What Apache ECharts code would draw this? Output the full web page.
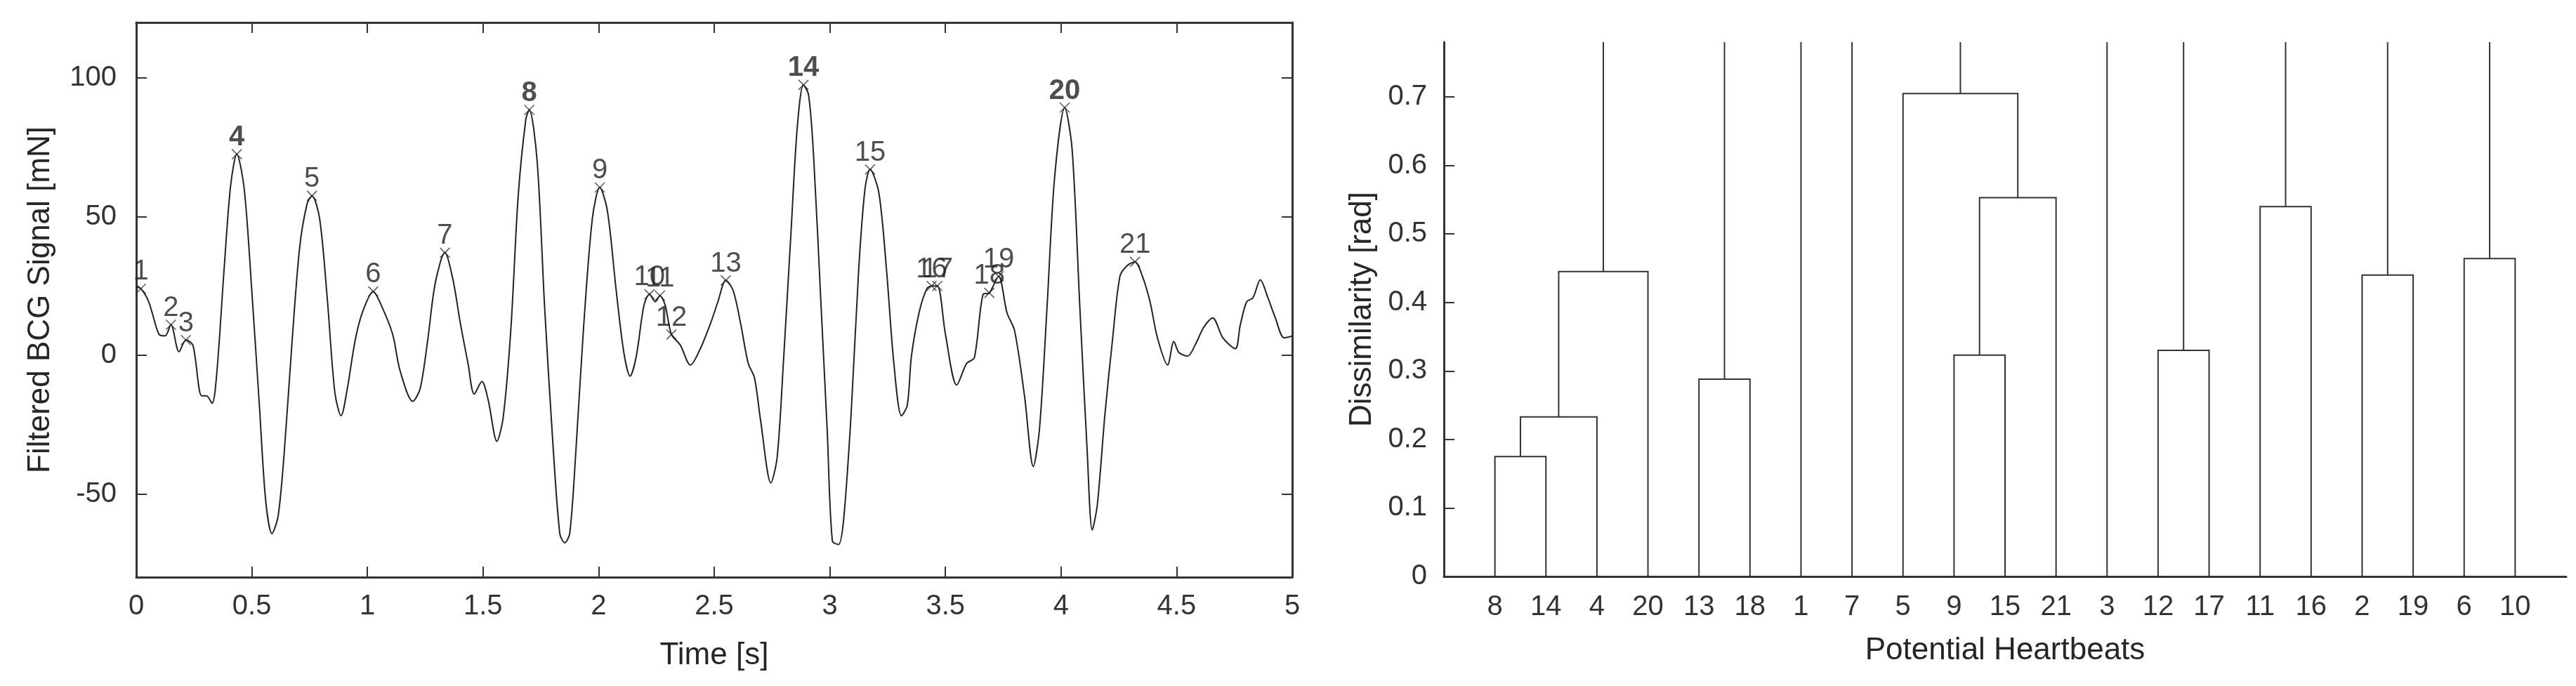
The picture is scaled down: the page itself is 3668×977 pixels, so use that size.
<!DOCTYPE html>
<html>
<head>
<meta charset="utf-8">
<script src="https://cdn.jsdelivr.net/npm/echarts@6.0.0/dist/echarts.min.js"></script>
<style>
  html, body { margin: 0; padding: 0; background: #fff; }
  #chart { width: 3668px; height: 977px; }
</style>
</head>
<body>
<div id="chart"></div>
<script>
// ---- left panel: filtered BCG signal ----
var times = [0, 0.02, 0.054, 0.098, 0.125, 0.15, 0.185, 0.215, 0.245, 0.283,
  0.304, 0.328, 0.348, 0.38, 0.408, 0.435, 0.467, 0.5, 0.533, 0.56,
  0.587, 0.614, 0.641, 0.674, 0.707, 0.739, 0.76, 0.793, 0.826, 0.859,
  0.886, 0.913, 0.946, 0.978, 1.025, 1.06, 1.109, 1.141, 1.196, 1.228,
  1.26, 1.293, 1.335, 1.37, 1.402, 1.435, 1.462, 1.495, 1.522, 1.56,
  1.587, 1.62, 1.652, 1.685, 1.70, 1.734, 1.766, 1.799, 1.832, 1.853,
  1.875, 1.902, 1.935, 1.973, 2.005, 2.038, 2.076, 2.109, 2.136, 2.163,
  2.196, 2.22, 2.245, 2.265, 2.288, 2.315, 2.353, 2.397, 2.44, 2.484,
  2.516, 2.55, 2.582, 2.614, 2.647, 2.674, 2.701, 2.745, 2.772, 2.799,
  2.832, 2.859, 2.886, 2.908, 2.929, 2.962, 2.989, 3.011, 3.038, 3.06,
  3.092, 3.125, 3.152, 3.174, 3.212, 3.245, 3.277, 3.31, 3.335, 3.353,
  3.386, 3.419, 3.44, 3.465, 3.5, 3.549, 3.592, 3.625, 3.663, 3.69,
  3.73, 3.766, 3.799, 3.842, 3.88, 3.907, 3.94, 3.972, 4.016, 4.048,
  4.081, 4.113, 4.135, 4.157, 4.19, 4.222, 4.255, 4.287, 4.32, 4.352,
  4.385, 4.417, 4.461, 4.488, 4.51, 4.548, 4.58, 4.618, 4.656, 4.7,
  4.754, 4.775, 4.803, 4.83, 4.862, 4.895, 4.927, 4.965, 5.0];
var signal = [24.6, 24, 19.3, 7.6, 7, 11, 1.3, 5.5, 3.7, -14.6,
  -14.6, -17.3, -6.8, 31, 61, 72.5, 60, 23, -18.6, -52.5,
  -64.3, -57.8, -34, 5, 39, 54.6, 57.5, 49.4, 20.7, -13.3,
  -21.8, -12, 5, 15.4, 23, 18, 7.6, -5.5, -16.6, -12,
  5, 25.9, 37, 27.2, 11.5, -2.9, -14, -9.4, -16, -31,
  -22.5, 8.9, 57.3, 85, 88.5, 70, 18, -27.7, -64.3, -67.6,
  -64.3, -34, 10.2, 49.4, 60.5, 52, 23.3, 1, -7.5, -0.3,
  18, 22, 19.3, 21.5, 18, 7.5, 3.7, -3.5, 2.4, 11.5,
  19.3, 27, 23.3, 11.5, -2.9, -8.1, -23.8, -46, -36.9, -2.9,
  44.2, 82, 97.5, 93.9, 73, 18, -27.7, -67, -68.2, -59,
  -21.2, 31.1, 59.9, 67, 58.6, 31, -2.9, -21.8, -18, -0.3,
  15.4, 23.9, 25, 25, 7.6, -10.7, -2.9, -0.9, 22, 22.5,
  28.5, 15.4, 8.9, -14.6, -40.1, -26.4, 18, 63.8, 89.3, 74.2,
  18, -34.2, -63, -53.9, -21.2, 5, 28.5, 32.4, 33.7, 28.5,
  19.3, 6.3, -3.5, 5, 1, -0.3, 3.7, 10.2, 13.5, 6.3,
  2.4, 10.8, 19.3, 20.7, 27.2, 20.7, 13.5, 6.3, 6.9];

// potential heartbeats (peaks) marked on the signal
var peakIds    = [1, 2, 3, 4, 5, 6, 7, 8, 9, 10, 11, 12, 13, 14, 15, 16, 17, 18, 19, 20, 21];
var peakTimes  = [0.02, 0.15, 0.215, 0.435, 0.76, 1.025, 1.335, 1.70, 2.005, 2.22, 2.265,
  2.315, 2.55, 2.886, 3.174, 3.44, 3.465, 3.69, 3.73, 4.016, 4.32];
var peakValues = [24, 11, 5.5, 72.5, 57.5, 23, 37, 88.5, 60.5, 22, 21.5,
  7.5, 27, 97.5, 67, 25, 25, 22.5, 28.5, 89.3, 33.7];
var boldPeaks  = [4, 8, 14, 20];

var timeTicks   = [0, 0.5, 1, 1.5, 2, 2.5, 3, 3.5, 4, 4.5, 5];
var signalTicks = [-50, 0, 50, 100];

// ---- right panel: dendrogram ----
var leafOrder = [8, 14, 4, 20, 13, 18, 1, 7, 5, 9, 15, 21, 3, 12, 17, 11, 16, 2, 19, 6, 10];
// linkage rows: [left node, right node, height]; node 22 is the first merge, 23 the next ...
var linkage = [
  [8, 14, 0.175],
  [22, 4, 0.233],
  [13, 18, 0.288],
  [9, 15, 0.323],
  [12, 17, 0.330],
  [2, 19, 0.440],
  [23, 20, 0.445],
  [6, 10, 0.464],
  [11, 16, 0.540],
  [25, 21, 0.553],
  [5, 31, 0.705]
];
var dissimTop = 0.78;
var dissimTicks = [0, 0.1, 0.2, 0.3, 0.4, 0.5, 0.6, 0.7];

// build dendrogram polylines from the linkage
var nLeaves = leafOrder.length;
var nodeX = {}, nodeH = {}, used = {};
leafOrder.forEach(function (leaf, i) { nodeX[leaf] = i + 1; nodeH[leaf] = 0; });
var dendroLines = [];
linkage.forEach(function (row, k) {
  var a = row[0], b = row[1], h = row[2], id = nLeaves + 1 + k;
  dendroLines.push([[nodeX[a], nodeH[a]], [nodeX[a], h], [nodeX[b], h], [nodeX[b], nodeH[b]]]);
  nodeX[id] = (nodeX[a] + nodeX[b]) / 2;
  nodeH[id] = h;
  used[a] = true; used[b] = true;
});
Object.keys(nodeX).forEach(function (id) {
  if (!used[id]) dendroLines.push([[nodeX[id], nodeH[id]], [nodeX[id], dissimTop]]);
});
var leafPos = leafOrder.map(function (d, i) { return i + 1; });

var axisColor = '#333';
var textColor = '#333';
var font = 'Liberation Sans, Arial, sans-serif';

var chart = echarts.init(document.getElementById('chart'));
var option = {
  animation: false,
  textStyle: { fontFamily: font },
  grid: [
    { left: 194, top: 32, width: 1646, height: 790 },
    { left: 2056, top: 60, width: 1598, height: 761 }
  ],
  xAxis: [
    {
      type: 'value', gridIndex: 0, min: 0, max: 5, interval: 0.5,
      name: 'Time [s]', nameLocation: 'middle', nameGap: 90,
      nameTextStyle: { fontSize: 44, color: '#262626', fontFamily: font },
      axisLine: { onZero: false, lineStyle: { color: axisColor, width: 3 } },
      axisTick: { inside: true, length: 15, lineStyle: { color: axisColor, width: 2 } },
      axisLabel: { customValues: timeTicks, fontSize: 40, color: textColor, margin: 22, fontFamily: font },
      splitLine: { show: false }
    },
    {
      type: 'value', gridIndex: 0, min: 0, max: 5, interval: 0.5, position: 'top',
      axisLine: { onZero: false, lineStyle: { color: axisColor, width: 3 } },
      axisTick: { inside: true, length: 15, lineStyle: { color: axisColor, width: 2 } },
      axisLabel: { show: false },
      splitLine: { show: false }
    },
    {
      type: 'value', gridIndex: 1, min: 0, max: nLeaves + 1,
      name: 'Potential Heartbeats', nameLocation: 'middle', nameGap: 84,
      nameTextStyle: { fontSize: 44, color: '#262626', fontFamily: font },
      axisLine: { onZero: false, lineStyle: { color: axisColor, width: 3 } },
      axisTick: { show: false },
      axisLabel: {
        customValues: leafPos, fontSize: 40, color: textColor, margin: 24, fontFamily: font,
        formatter: function (v) { return String(leafOrder[v - 1]); }
      },
      splitLine: { show: false }
    }
  ],
  yAxis: [
    {
      type: 'value', gridIndex: 0, min: -80, max: 120,
      name: 'Filtered BCG Signal [mN]', nameLocation: 'middle', nameGap: 114,
      nameTextStyle: { fontSize: 44, color: '#262626', fontFamily: font },
      axisLine: { onZero: false, lineStyle: { color: axisColor, width: 3 } },
      axisTick: { inside: true, length: 15, customValues: signalTicks, lineStyle: { color: axisColor, width: 2 } },
      axisLabel: { customValues: signalTicks, fontSize: 40, color: textColor, margin: 28, fontFamily: font },
      splitLine: { show: false }
    },
    {
      type: 'value', gridIndex: 0, min: -80, max: 120, position: 'right',
      axisLine: { onZero: false, lineStyle: { color: axisColor, width: 3 } },
      axisTick: { inside: true, length: 15, customValues: signalTicks, lineStyle: { color: axisColor, width: 2 } },
      axisLabel: { show: false },
      splitLine: { show: false }
    },
    {
      type: 'value', gridIndex: 1, min: 0, max: dissimTop,
      name: 'Dissimilarity [rad]', nameLocation: 'middle', nameGap: 94,
      nameTextStyle: { fontSize: 44, color: '#262626', fontFamily: font },
      axisLine: { onZero: false, lineStyle: { color: axisColor, width: 3 } },
      axisTick: { inside: true, length: 15, customValues: dissimTicks, lineStyle: { color: axisColor, width: 2 } },
      axisLabel: { customValues: dissimTicks, fontSize: 40, color: textColor, margin: 24, fontFamily: font },
      splitLine: { show: false }
    }
  ],
  series: [
    {
      name: 'BCG', type: 'line', xAxisIndex: 0, yAxisIndex: 0,
      data: times.map(function (t, i) { return [t, signal[i]]; }),
      showSymbol: false, smooth: 0.3,
      lineStyle: { color: '#222', width: 2 }
    },
    {
      name: 'Peaks', type: 'scatter', xAxisIndex: 0, yAxisIndex: 0,
      symbol: 'path://M0,0L20,20M20,0L0,20', symbolSize: 14,
      itemStyle: { color: 'transparent', borderColor: '#333', borderWidth: 1.5 },
      data: peakIds.map(function (id, i) {
        return {
          value: [peakTimes[i], peakValues[i]],
          label: { fontWeight: boldPeaks.indexOf(id) >= 0 ? 'bold' : 'normal' }
        };
      }),
      label: {
        show: true, position: 'top', distance: -4,
        fontSize: 40, color: '#222', fontFamily: font,
        formatter: function (p) { return String(peakIds[p.dataIndex]); }
      }
    },
    {
      name: 'Dendrogram', type: 'lines', coordinateSystem: 'cartesian2d',
      xAxisIndex: 2, yAxisIndex: 2, polyline: true, silent: true,
      lineStyle: { color: '#333', width: 2, opacity: 1 },
      data: dendroLines.map(function (c) { return { coords: c }; })
    }
  ]
};
chart.setOption(option);
</script>
</body>
</html>
